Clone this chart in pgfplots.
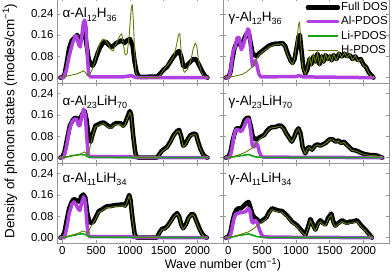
\documentclass[border=0pt]{standalone}
\usepackage{fontspec}
\setmainfont{Liberation Sans}
\usepackage{pgfplots}
\pgfplotsset{compat=1.18}
\usepgfplotslibrary{groupplots}
\definecolor{alc}{RGB}{176,64,224}
\definecolor{lic}{RGB}{20,165,20}
\definecolor{hc}{RGB}{95,125,10}
\definecolor{framec}{RGB}{150,150,150}
\pgfplotsset{
 full/.style={black, line width=4.5pt, line join=round, line cap=round},
 al/.style={alc, line width=3.5pt, line join=round, line cap=round},
 li/.style={lic, line width=1.6pt, line join=round},
 hh/.style={hc, line width=0.9pt, line join=round},
}
\newcommand{\tf}{\fontsize{11.5}{13}\selectfont}
\newcommand{\ttl}{\fontsize{13.5}{15}\selectfont}
\newcommand{\sbs}[1]{\raisebox{-3.5pt}{\fontsize{9}{9}\selectfont #1}}
\begin{document}
\begin{tikzpicture}
\begin{groupplot}[
 group style={group size=2 by 3, horizontal sep=0pt, vertical sep=0pt,
   xticklabels at=edge bottom, yticklabels at=edge left},
 width=166pt, height=80pt, scale only axis,
 xmin=-80, xmax=2380, ymin=-0.02, ymax=0.28,
 xtick={0,500,1000,1500,2000}, ytick={0,0.08,0.16,0.24},
 scaled y ticks=false,
 tick align=inside, axis line style={framec}, every tick/.style={framec},
 major tick length=3pt,
 tick label style={font=\tf},
 /pgf/number format/assume math mode=true,
 /pgf/number format/1000 sep={},
 yticklabel style={/pgf/number format/.cd, fixed, fixed zerofill, precision=2, assume math mode=true},
]
% ---------- r1 c1 : alpha-Al12H36
\nextgroupplot[height=85pt, ymax=0.299]
\coordinate (TL) at (rel axis cs:0,1);
\addplot[full] coordinates {(-30,0)(0,0.002)(30,0.01)(60,0.05)(100,0.11)(140,0.14)(180,0.15)(220,0.16)(260,0.14)(300,0.16)(330,0.17)(360,0.12)(390,0.07)(420,0.05)(450,0.045)(480,0.06)(520,0.09)(560,0.115)(600,0.13)(640,0.135)(680,0.125)(720,0.115)(760,0.12)(800,0.13)(840,0.135)(880,0.14)(920,0.13)(960,0.14)(1000,0.145)(1040,0.12)(1070,0.06)(1100,0.02)(1130,0.005)(1160,0.003)(1400,0.004)(1450,0.015)(1500,0.03)(1550,0.04)(1600,0.06)(1650,0.08)(1700,0.095)(1730,0.1)(1760,0.08)(1790,0.045)(1820,0.04)(1860,0.05)(1900,0.06)(1940,0.07)(1970,0.07)(2000,0.06)(2040,0.04)(2080,0.02)(2120,0.005)(2150,0)};
\addplot[al] coordinates {(-30,0)(20,0)(60,0.03)(100,0.08)(150,0.13)(190,0.155)(210,0.157)(240,0.125)(265,0.115)(290,0.16)(310,0.205)(330,0.216)(350,0.19)(370,0.08)(390,0.01)(420,0.003)(900,0.003)(980,0.006)(1020,0.008)(1060,0.003)(1100,0)(2150,0)};
\addplot[hh] coordinates {(-30,0)(20,0.002)(100,0.008)(200,0.013)(270,0.02)(310,0.026)(340,0.02)(370,0.008)(400,0.01)(440,0.03)(480,0.06)(520,0.1)(560,0.13)(600,0.145)(640,0.14)(680,0.125)(720,0.105)(750,0.1)(780,0.12)(820,0.14)(860,0.16)(880,0.165)(900,0.13)(930,0.085)(960,0.09)(990,0.16)(1020,0.26)(1035,0.275)(1050,0.22)(1070,0.1)(1090,0.02)(1120,0.003)(1150,0)(1400,0)(1450,0.01)(1500,0.03)(1550,0.045)(1600,0.06)(1650,0.08)(1690,0.12)(1720,0.16)(1740,0.165)(1760,0.1)(1790,0.03)(1810,0.02)(1850,0.03)(1900,0.06)(1940,0.11)(1970,0.13)(1990,0.12)(2020,0.06)(2060,0.02)(2100,0.005)(2150,0)};
\node[anchor=base west, inner sep=0pt, font=\ttl] at (axis cs:0,0.225) {α-Al\sbs{12}H\sbs{36}};
% ---------- r1 c2 : gamma-Al12H36
\nextgroupplot[height=85pt, ymax=0.299,
 legend style={draw=none, fill=none, at={(rel axis cs:1,1)}, yshift=-2pt, anchor=north east, inner sep=0pt, row sep=0pt,
   font=\tf, cells={anchor=west}, nodes={text height=9.3pt, text depth=3pt, inner sep=1pt}},
 legend image code/.code={\draw[#1] (0pt,0pt) -- (30pt,0pt);}]
\addplot[full] coordinates {(-40,0)(0,0.003)(30,0.02)(60,0.07)(90,0.11)(120,0.13)(150,0.14)(180,0.12)(210,0.13)(240,0.15)(270,0.165)(300,0.17)(330,0.13)(360,0.09)(390,0.085)(420,0.08)(450,0.09)(500,0.1)(550,0.11)(600,0.12)(650,0.125)(700,0.128)(750,0.128)(800,0.13)(840,0.12)(880,0.09)(920,0.065)(950,0.055)(980,0.07)(1010,0.11)(1040,0.155)(1060,0.16)(1080,0.11)(1110,0.04)(1140,0.015)(1170,0.03)(1200,0.07)(1230,0.05)(1260,0.08)(1290,0.06)(1320,0.09)(1350,0.05)(1380,0.08)(1410,0.06)(1440,0.085)(1470,0.07)(1500,0.08)(1530,0.065)(1560,0.085)(1600,0.07)(1640,0.09)(1680,0.08)(1720,0.09)(1760,0.08)(1800,0.085)(1840,0.07)(1880,0.08)(1920,0.065)(1960,0.07)(2000,0.05)(2040,0.04)(2080,0.02)(2120,0.008)(2150,0)};
\addplot[al] coordinates {(-40,0)(10,0)(40,0.04)(70,0.1)(100,0.115)(130,0.15)(160,0.15)(190,0.105)(220,0.12)(260,0.16)(290,0.183)(310,0.175)(330,0.11)(355,0.045)(375,0.05)(400,0.064)(420,0.05)(450,0.015)(480,0.003)(1000,0.004)(1050,0.008)(1100,0.003)(2150,0)};
\addlegendimage{li}
\addplot[hh] coordinates {(-40,0)(0,0.002)(100,0.006)(200,0.012)(260,0.02)(300,0.028)(330,0.035)(360,0.04)(390,0.055)(420,0.07)(450,0.085)(500,0.095)(550,0.105)(600,0.115)(650,0.12)(700,0.125)(750,0.125)(800,0.128)(840,0.115)(880,0.085)(920,0.06)(950,0.05)(980,0.07)(1010,0.13)(1040,0.2)(1055,0.21)(1075,0.12)(1100,0.04)(1140,0.012)(1170,0.035)(1200,0.08)(1230,0.045)(1260,0.09)(1290,0.055)(1320,0.095)(1350,0.045)(1380,0.085)(1410,0.055)(1440,0.09)(1470,0.065)(1500,0.085)(1530,0.06)(1560,0.09)(1600,0.065)(1640,0.095)(1680,0.075)(1720,0.095)(1760,0.075)(1800,0.09)(1840,0.065)(1880,0.085)(1920,0.06)(1960,0.07)(2000,0.045)(2040,0.04)(2080,0.018)(2120,0.006)(2150,0)};
\legend{Full DOS,Al-PDOS,Li-PDOS,H-PDOS}
\node[anchor=base west, inner sep=0pt, font=\ttl] at (axis cs:0,0.211) {γ-Al\sbs{12}H\sbs{36}};
% ---------- r2 c1 : alpha-Al23LiH70
\nextgroupplot
\addplot[full] coordinates {(-30,0)(0,0.003)(30,0.02)(70,0.07)(110,0.12)(150,0.14)(190,0.15)(230,0.145)(270,0.15)(300,0.165)(330,0.175)(360,0.14)(390,0.07)(420,0.06)(450,0.09)(490,0.12)(530,0.125)(570,0.13)(610,0.132)(650,0.125)(690,0.117)(720,0.115)(760,0.125)(800,0.13)(840,0.13)(870,0.128)(900,0.12)(930,0.13)(960,0.15)(1000,0.175)(1020,0.16)(1050,0.08)(1080,0.02)(1100,0.003)(1130,0)(1400,0)(1430,0.01)(1470,0.025)(1510,0.033)(1550,0.04)(1600,0.06)(1650,0.085)(1700,0.1)(1730,0.104)(1760,0.08)(1790,0.045)(1820,0.05)(1860,0.07)(1900,0.085)(1950,0.09)(1980,0.088)(2010,0.06)(2050,0.03)(2090,0.01)(2130,0.002)(2150,0)};
\addplot[al] coordinates {(-30,0)(20,0)(60,0.04)(100,0.1)(140,0.135)(180,0.145)(210,0.145)(240,0.12)(260,0.12)(290,0.16)(315,0.182)(340,0.16)(360,0.08)(380,0.015)(400,0.004)(1000,0.004)(1100,0)(2150,0)};
\addplot[li] coordinates {(-30,0)(50,0.002)(150,0.008)(220,0.01)(280,0.012)(330,0.01)(380,0.003)(450,0.001)(2150,0)};
\addplot[hh] coordinates {(-30,0)(50,0.002)(150,0.007)(250,0.012)(300,0.018)(330,0.022)(360,0.012)(390,0.02)(420,0.05)(450,0.085)(490,0.115)(530,0.12)(570,0.125)(610,0.128)(650,0.12)(690,0.112)(720,0.11)(760,0.12)(800,0.125)(840,0.125)(870,0.123)(900,0.115)(930,0.125)(960,0.145)(1000,0.17)(1020,0.155)(1050,0.075)(1080,0.015)(1100,0.002)(1130,0)(1400,0)(1430,0.008)(1470,0.022)(1510,0.03)(1550,0.037)(1600,0.057)(1650,0.082)(1700,0.097)(1730,0.1)(1760,0.077)(1790,0.042)(1820,0.047)(1860,0.067)(1900,0.082)(1950,0.087)(1980,0.085)(2010,0.057)(2050,0.028)(2090,0.008)(2130,0.001)(2150,0)};
\node[anchor=base west, inner sep=0pt, font=\ttl] at (axis cs:0,0.196) {α-Al\sbs{23}LiH\sbs{70}};
% ---------- r2 c2 : gamma-Al23LiH70
\nextgroupplot
\addplot[full] coordinates {(-40,0)(0,0.003)(30,0.02)(60,0.06)(90,0.09)(120,0.11)(150,0.11)(180,0.105)(210,0.12)(240,0.14)(270,0.148)(300,0.15)(330,0.12)(360,0.08)(390,0.07)(420,0.068)(450,0.075)(490,0.08)(530,0.085)(570,0.1)(610,0.11)(650,0.115)(700,0.115)(740,0.12)(780,0.12)(820,0.11)(860,0.09)(900,0.075)(940,0.06)(980,0.08)(1010,0.1)(1040,0.11)(1070,0.09)(1100,0.04)(1140,0.016)(1170,0.035)(1200,0.04)(1240,0.03)(1280,0.045)(1320,0.05)(1360,0.045)(1400,0.05)(1440,0.055)(1480,0.065)(1510,0.07)(1550,0.068)(1590,0.06)(1630,0.065)(1670,0.055)(1710,0.06)(1750,0.05)(1790,0.04)(1830,0.03)(1870,0.028)(1910,0.025)(1950,0.02)(2000,0.015)(2050,0.012)(2100,0.01)(2150,0.01)(2200,0.008)(2250,0.003)(2280,0)};
\addplot[al] coordinates {(-40,0)(20,0)(50,0.03)(80,0.08)(110,0.105)(140,0.105)(170,0.1)(200,0.1)(230,0.115)(260,0.135)(290,0.145)(310,0.14)(330,0.1)(355,0.045)(380,0.04)(410,0.054)(430,0.05)(460,0.02)(490,0.005)(520,0.002)(2280,0)};
\addplot[li] coordinates {(-40,0)(50,0.002)(150,0.006)(250,0.01)(300,0.012)(340,0.008)(400,0.003)(500,0.001)(2280,0)};
\addplot[hh] coordinates {(-40,0)(50,0.002)(150,0.01)(250,0.02)(300,0.028)(350,0.035)(400,0.05)(450,0.065)(490,0.075)(530,0.083)(570,0.098)(610,0.108)(650,0.113)(700,0.113)(740,0.118)(780,0.118)(820,0.108)(860,0.088)(900,0.073)(940,0.058)(980,0.078)(1010,0.098)(1040,0.108)(1070,0.088)(1100,0.038)(1140,0.014)(1170,0.033)(1200,0.038)(1240,0.028)(1280,0.043)(1320,0.048)(1360,0.043)(1400,0.048)(1440,0.053)(1480,0.063)(1510,0.068)(1550,0.066)(1590,0.058)(1630,0.063)(1670,0.053)(1710,0.058)(1750,0.048)(1790,0.038)(1830,0.028)(1870,0.026)(1910,0.023)(1950,0.018)(2000,0.013)(2050,0.01)(2100,0.008)(2150,0.008)(2200,0.006)(2250,0.002)(2280,0)};
\node[anchor=base west, inner sep=0pt, font=\ttl] at (axis cs:0,0.196) {γ-Al\sbs{23}LiH\sbs{70}};
% ---------- r3 c1 : alpha-Al11LiH34
\nextgroupplot
\addplot[full] coordinates {(-30,0)(0,0.003)(30,0.02)(60,0.06)(100,0.11)(140,0.135)(170,0.145)(210,0.14)(250,0.135)(280,0.155)(310,0.162)(340,0.15)(370,0.09)(400,0.06)(430,0.055)(460,0.06)(500,0.08)(540,0.1)(580,0.105)(620,0.112)(660,0.118)(700,0.118)(740,0.12)(780,0.122)(820,0.123)(860,0.124)(900,0.125)(930,0.12)(960,0.14)(990,0.16)(1010,0.14)(1040,0.07)(1070,0.015)(1090,0.003)(1110,0)(1400,0)(1440,0.02)(1480,0.034)(1520,0.035)(1560,0.045)(1600,0.06)(1650,0.08)(1700,0.092)(1730,0.08)(1760,0.05)(1790,0.035)(1830,0.05)(1870,0.075)(1920,0.09)(1950,0.085)(1990,0.06)(2030,0.035)(2070,0.015)(2110,0.003)(2140,0)};
\addplot[al] coordinates {(-30,0)(30,0)(60,0.03)(100,0.09)(140,0.125)(170,0.134)(200,0.125)(240,0.105)(260,0.103)(290,0.135)(316,0.153)(340,0.13)(365,0.05)(385,0.008)(410,0.004)(1000,0.004)(1100,0)(2140,0)};
\addplot[li] coordinates {(-30,0)(50,0.002)(150,0.008)(230,0.012)(290,0.015)(340,0.012)(390,0.005)(450,0.002)(2140,0)};
\addplot[hh] coordinates {(-30,0)(50,0.003)(150,0.01)(250,0.018)(300,0.025)(340,0.022)(370,0.015)(400,0.03)(430,0.045)(460,0.055)(500,0.075)(540,0.095)(580,0.1)(620,0.107)(660,0.113)(700,0.113)(740,0.115)(780,0.117)(820,0.118)(860,0.119)(900,0.12)(930,0.115)(960,0.135)(990,0.157)(1010,0.137)(1040,0.067)(1070,0.012)(1090,0.002)(1110,0)(1400,0)(1440,0.017)(1480,0.031)(1520,0.032)(1560,0.042)(1600,0.057)(1650,0.077)(1700,0.089)(1730,0.077)(1760,0.047)(1790,0.032)(1830,0.047)(1870,0.072)(1920,0.087)(1950,0.082)(1990,0.057)(2030,0.032)(2070,0.012)(2110,0.002)(2140,0)};
\node[anchor=base west, inner sep=0pt, font=\ttl] at (axis cs:0,0.208) {α-Al\sbs{11}LiH\sbs{34}};
% ---------- r3 c2 : gamma-Al11LiH34
\nextgroupplot
\coordinate (BM) at (rel axis cs:0,0);
\addplot[full] coordinates {(-40,0)(0,0.003)(30,0.02)(60,0.06)(90,0.09)(120,0.105)(150,0.11)(190,0.11)(230,0.12)(270,0.13)(300,0.134)(330,0.11)(360,0.085)(390,0.075)(420,0.07)(450,0.062)(480,0.06)(520,0.068)(560,0.075)(600,0.095)(647,0.11)(690,0.106)(740,0.102)(795,0.1)(840,0.09)(880,0.08)(943,0.06)(1000,0.05)(1042,0.04)(1090,0.025)(1141,0.01)(1180,0.04)(1215,0.07)(1250,0.05)(1289,0.03)(1330,0.055)(1363,0.065)(1400,0.055)(1437,0.05)(1480,0.075)(1526,0.09)(1555,0.06)(1585,0.045)(1630,0.055)(1684,0.065)(1720,0.06)(1758,0.055)(1795,0.06)(1830,0.06)(1870,0.063)(1906,0.065)(1940,0.055)(1970,0.045)(2030,0.03)(2080,0.015)(2128,0)};
\addplot[al] coordinates {(-40,0)(20,0)(50,0.03)(80,0.07)(110,0.088)(150,0.092)(200,0.095)(250,0.097)(280,0.105)(300,0.11)(320,0.1)(345,0.06)(370,0.055)(400,0.065)(430,0.055)(460,0.03)(490,0.012)(520,0.004)(600,0.002)(2130,0)};
\addplot[li] coordinates {(-40,0)(50,0.002)(150,0.008)(250,0.012)(300,0.014)(350,0.01)(420,0.004)(520,0.001)(2130,0)};
\addplot[hh] coordinates {(-40,0)(50,0.002)(150,0.01)(250,0.018)(300,0.022)(350,0.03)(400,0.04)(450,0.05)(480,0.055)(520,0.063)(560,0.07)(600,0.09)(647,0.105)(690,0.101)(740,0.097)(795,0.095)(840,0.085)(880,0.075)(943,0.055)(1000,0.045)(1042,0.035)(1090,0.02)(1141,0.008)(1180,0.035)(1215,0.065)(1250,0.045)(1289,0.025)(1330,0.05)(1363,0.06)(1400,0.05)(1437,0.045)(1480,0.07)(1526,0.085)(1555,0.055)(1585,0.04)(1630,0.05)(1684,0.06)(1720,0.055)(1758,0.05)(1795,0.055)(1830,0.055)(1870,0.058)(1906,0.06)(1940,0.05)(1970,0.04)(2030,0.025)(2080,0.012)(2128,0)};
\node[anchor=base west, inner sep=0pt, font=\ttl] at (axis cs:0,0.208) {γ-Al\sbs{11}LiH\sbs{34}};
\end{groupplot}
\node[rotate=90, font=\fontsize{13.5}{15}\selectfont] at ([xshift=-47pt,yshift=2pt]group c1r2.west) {Density of phonon states (modes/cm\textsuperscript{−1})};
\node[font=\fontsize{12.5}{14}\selectfont] at ([yshift=-22pt]BM) {Wave number (cm\textsuperscript{−1})};
\pgfresetboundingbox
\path[use as bounding box] ([xshift=-57pt,yshift=-2pt]TL) rectangle ++(392pt,-276pt);
\end{tikzpicture}
\end{document}
